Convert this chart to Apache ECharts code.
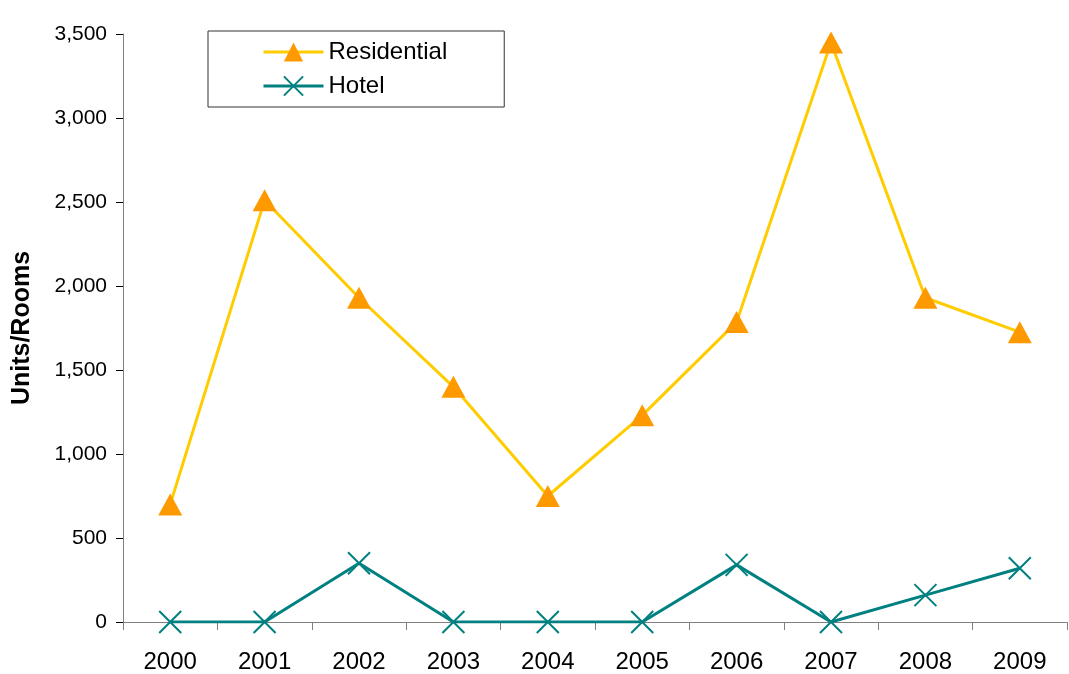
<!DOCTYPE html>
<html><head><meta charset="utf-8">
<script src="https://cdn.jsdelivr.net/npm/echarts@6/dist/echarts.min.js"></script>
<style>html,body{margin:0;padding:0;background:#fff}#c{width:1069px;height:674px}</style>
</head><body><div id="c"></div>
<script>
const years = ['2000','2001','2002','2003','2004','2005','2006','2007','2008','2009'];
const residential = [700, 2510, 1930, 1400, 750, 1230, 1785, 3450, 1930, 1725];
const hotel = [0, 0, 350, 0, 0, 0, 340, 0, 160, 320];

const chart = echarts.init(document.getElementById('c'));
const font = 'Arial, "Liberation Sans", sans-serif';
chart.setOption({
  animation: false,
  backgroundColor: '#fff',
  grid: {left: 123, right: 2, top: 34, bottom: 52, containLabel: false, outerBoundsMode: 'none'},
  legend: {
    orient: 'vertical', left: 208, top: 31,
    borderColor: '#333', borderWidth: 1,
    padding: [9, 57, 9, 54],
    itemWidth: 60, itemHeight: 24, itemGap: 10,
    lineStyle: {width: 3},
    textStyle: {fontFamily: font, fontSize: 24, color: '#000'},
    data: ['Residential', 'Hotel']
  },
  xAxis: {
    type: 'category', data: years, boundaryGap: true,
    axisLine: {lineStyle: {color: '#808080', width: 1}},
    axisTick: {show: true, length: 8, inside: false, lineStyle: {color: '#808080'}},
    axisLabel: {fontFamily: font, fontSize: 24, color: '#000', margin: 28}
  },
  yAxis: {
    type: 'value', min: 0, max: 3500, interval: 500,
    name: 'Units/Rooms', nameLocation: 'middle', nameGap: 88, nameRotate: 90,
    nameTextStyle: {fontFamily: font, fontSize: 25, fontWeight: 'bold', color: '#000'},
    axisLine: {show: true, lineStyle: {color: '#808080', width: 1}},
    axisTick: {show: true, length: 7, lineStyle: {color: '#000'}},
    splitLine: {show: false},
    axisLabel: {fontFamily: font, fontSize: 21, color: '#000', margin: 16,
      formatter: v => v.toLocaleString('en-US')}
  },
  series: [
    {
      name: 'Residential', type: 'line', data: residential,
      lineStyle: {color: '#FFCC00', width: 3},
      itemStyle: {color: '#FF9900'},
      symbol: 'triangle', symbolSize: [24, 22], showAllSymbol: true
    },
    {
      name: 'Hotel', type: 'line', data: hotel,
      lineStyle: {color: '#008080', width: 3},
      itemStyle: {color: 'rgba(0,0,0,0)', borderColor: '#008080', borderWidth: 2},
      symbol: 'path://M0,0L10,10M10,0L0,10', symbolSize: 22, showAllSymbol: true
    }
  ]
});
</script></body></html>
